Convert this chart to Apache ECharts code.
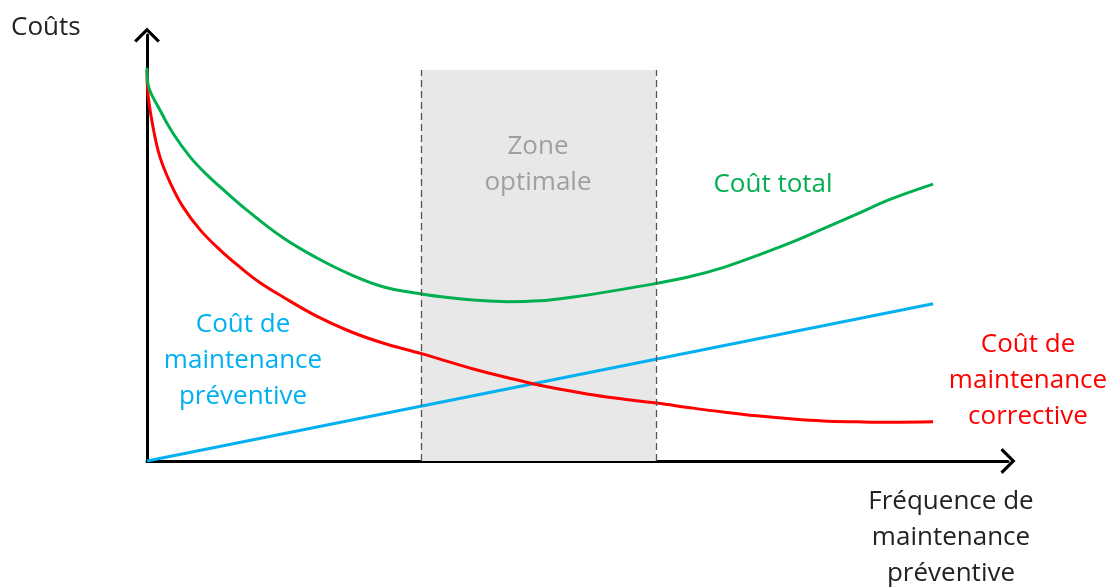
<!DOCTYPE html>
<html>
<head>
<meta charset="utf-8">
<script src="https://cdn.jsdelivr.net/npm/echarts@6/dist/echarts.min.js"></script>
<style>
  html, body { margin: 0; padding: 0; background: #fff; }
  #main { width: 1115px; height: 587px; }
</style>
</head>
<body>
<div id="main"></div>
<script>
// values (x: frequency 0..100, y: cost 0..100)
var totalCost = [
    [0, 92.3], [0.1, 88.7], [1.5, 82.4], [3.0, 77.0], [5.0, 71.4], [7.0, 67.1],
    [9.3, 62.9], [11.6, 58.9], [15.8, 52.4], [19.7, 47.7], [23.6, 43.8],
    [27.4, 40.9], [31.9, 39.2], [35.2, 38.3], [37.9, 37.8], [41.8, 37.4], [45.6, 37.6],
    [49.5, 38.5], [53.4, 39.7], [59.2, 41.7], [63.1, 43.3], [66.9, 45.4], [70.8, 48.2],
    [74.7, 51.2], [78.5, 54.5], [82.5, 58.0], [86.3, 61.4], [91.3, 65.0]
];
var correctiveCost = [
    [0, 91.8], [0.1, 86.4], [0.7, 78.4], [1.5, 71.4], [2.7, 65.3], [4.2, 59.6],
    [6.2, 54.2], [8.5, 49.5], [10.8, 45.5], [13.1, 41.9], [15.8, 38.5], [19.7, 34.0],
    [23.6, 30.4], [27.4, 27.7], [31.9, 25.2], [35.2, 23.2], [37.9, 21.6], [41.8, 19.6],
    [45.6, 17.8], [49.5, 16.3], [53.4, 15.0], [59.2, 13.6], [63.1, 12.5], [66.9, 11.5],
    [70.8, 10.6], [74.7, 9.9], [78.5, 9.4], [82.5, 9.2], [86.3, 9.1], [91.3, 9.2]
];
var preventiveCost = [[0, 0], [91.3, 36.9]];
var zoneStart = 31.8;
var zoneEnd = 59.1;
var zoneTop = 91.8;

var green = '#00b050';
var red = '#ff0000';
var blue = '#00b0f0';
var font = '"Open Sans", sans-serif';

// open chevron arrow, pointing up (rotated by echarts along the axis)
var chevron = 'path://M0,13 L13,0 L26,13 L23.6,15 L13,4.4 L2.4,15 Z';

var myChart = echarts.init(document.getElementById('main'));

function txt(x, y, text, color, align) {
    return {
        type: 'text',
        x: x,
        y: y,
        z: 100,
        style: {
            text: text,
            fill: color,
            font: '26px ' + font,
            lineHeight: 36,
            align: align || 'center',
            verticalAlign: 'middle'
        }
    };
}

var axisCommon = {
    type: 'value',
    min: 0,
    max: 100,
    axisLine: {
        show: true,
        onZero: false,
        symbol: ['none', chevron],
        symbolSize: [26, 15],
        lineStyle: { color: '#000', width: 3 }
    },
    axisTick: { show: false },
    axisLabel: { show: false },
    splitLine: { show: false }
};

var option = {
    backgroundColor: '#fff',
    animation: false,
    grid: { left: 147, right: 107, top: 35, bottom: 126 },
    xAxis: axisCommon,
    yAxis: axisCommon,
    graphic: [
        txt(11, 28, 'Coûts', '#222', 'left'),
        txt(538, 165, 'Zone\noptimale', '#a0a0a0'),
        txt(773, 185, 'Coût total', green),
        txt(243, 361, 'Coût de\nmaintenance\npréventive', blue),
        txt(1028, 381, 'Coût de\nmaintenance\ncorrective', red),
        txt(951, 538, 'Fréquence de\nmaintenance\npréventive', '#222')
    ],
    series: [
        {
            name: 'zone',
            type: 'line',
            data: [],
            z: 1,
            silent: true,
            markArea: {
                silent: true,
                itemStyle: { color: '#e8e8e8' },
                data: [[{ coord: [zoneStart, 0] }, { coord: [zoneEnd, zoneTop] }]]
            },
            markLine: {
                silent: true,
                symbol: 'none',
                label: { show: false },
                lineStyle: { color: '#555', width: 1.3, type: [7, 4] },
                data: [
                    [{ coord: [zoneStart, 0] }, { coord: [zoneStart, zoneTop] }],
                    [{ coord: [zoneEnd, 0] }, { coord: [zoneEnd, zoneTop] }]
                ]
            }
        },
        {
            name: 'Coût de maintenance préventive',
            type: 'line',
            data: preventiveCost,
            z: 3,
            showSymbol: false,
            lineStyle: { color: blue, width: 3 }
        },
        {
            name: 'Coût de maintenance corrective',
            type: 'line',
            data: correctiveCost,
            z: 3,
            smooth: 0.4,
            showSymbol: false,
            lineStyle: { color: red, width: 3 }
        },
        {
            name: 'Coût total',
            type: 'line',
            data: totalCost,
            z: 3,
            smooth: 0.4,
            showSymbol: false,
            lineStyle: { color: green, width: 3 }
        }
    ]
};

myChart.setOption(option);
</script>
</body>
</html>
